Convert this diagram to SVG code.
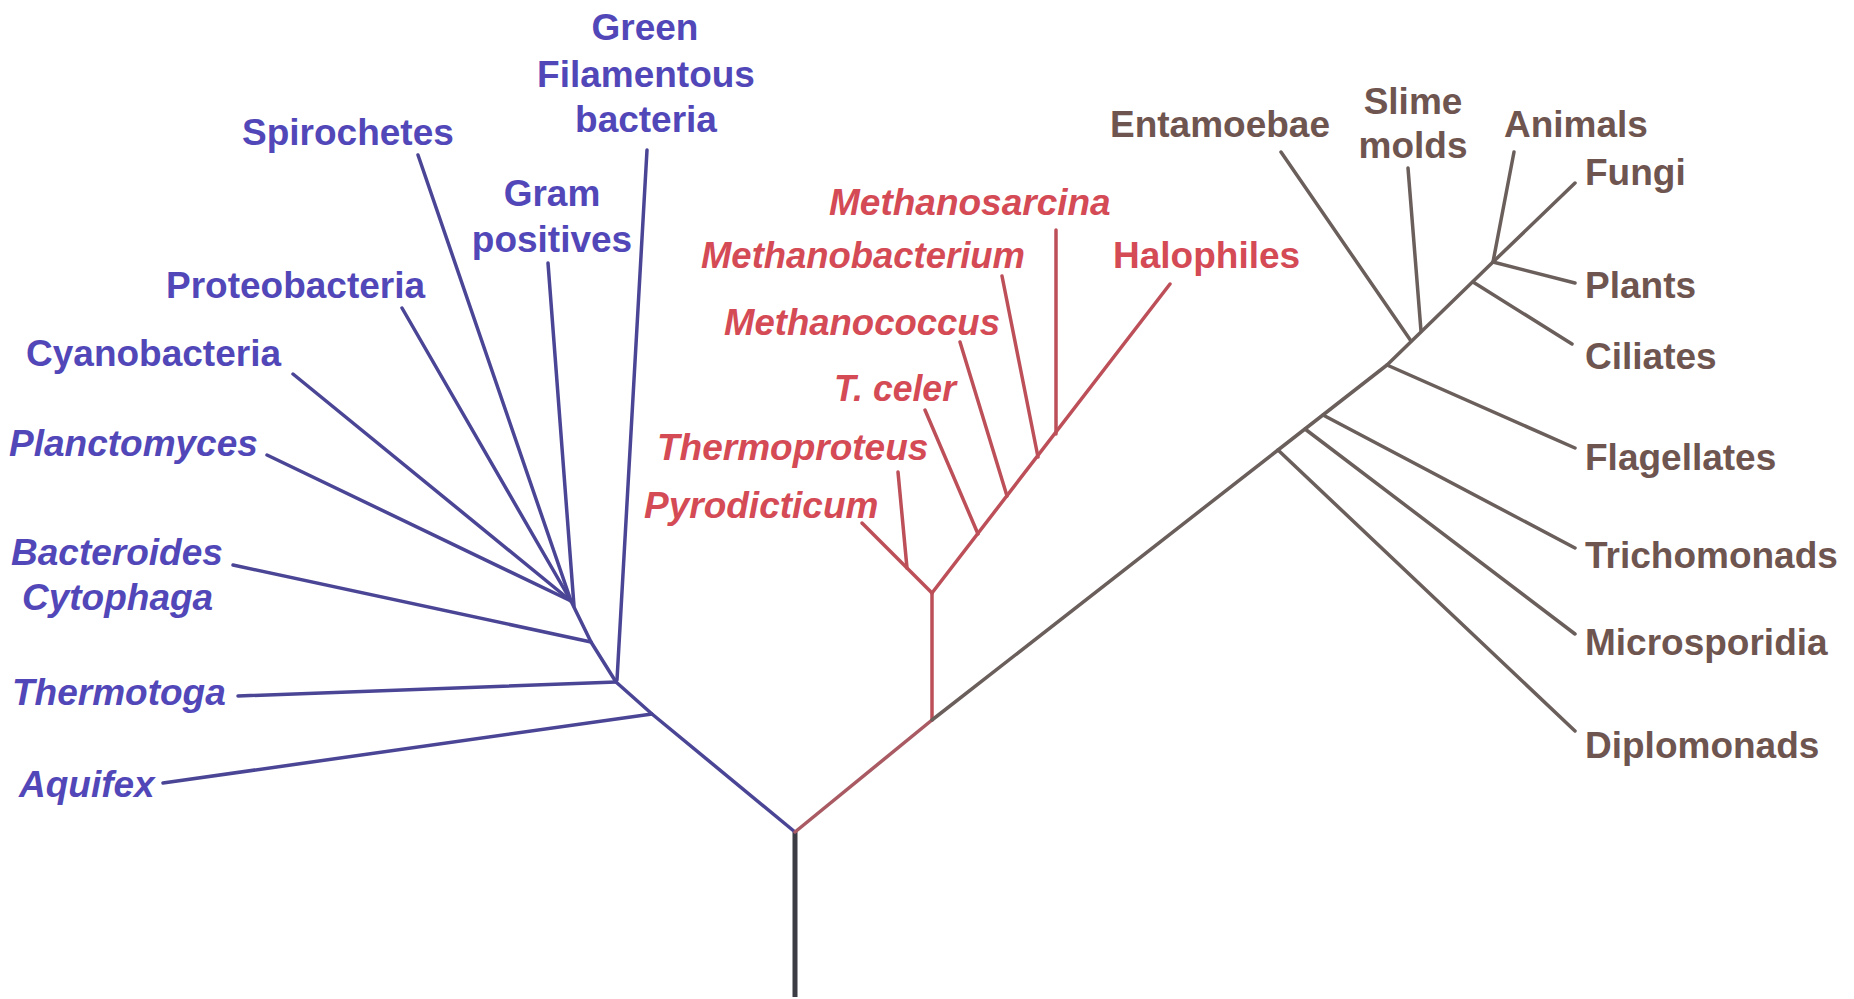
<svg xmlns="http://www.w3.org/2000/svg" width="1854" height="999" viewBox="0 0 1854 999">
<style>
text{font-family:"Liberation Sans",Arial,sans-serif;font-weight:bold;font-size:37px}
.it{font-style:italic}
.b{fill:#5247b8}
.r{fill:#d44a55}
.e{fill:#6f5550}
.mid{text-anchor:middle}
.lb{stroke:#4b4596;stroke-width:3.5;fill:none;stroke-linecap:round;stroke-linejoin:round}
.lr{stroke:#bd4f59;stroke-width:3.5;fill:none;stroke-linecap:round;stroke-linejoin:round}
.le{stroke:#6b5f5c;stroke-width:3.5;fill:none;stroke-linecap:round;stroke-linejoin:round}
.lroot{stroke:#3c3c44;stroke-width:5;fill:none}
</style>
<rect width="1854" height="999" fill="#ffffff"/>
<g id="connectors">
  <line class="lroot" x1="795" y1="832" x2="795" y2="997"/>
  <!-- bacteria -->
  <polyline class="lb" points="795,832 652,714 616,682 591,642 571,601"/>
  <line class="lb" x1="163" y1="783" x2="652" y2="714"/>
  <line class="lb" x1="238" y1="696" x2="616" y2="682"/>
  <line class="lb" x1="233" y1="565" x2="591" y2="642"/>
  <line class="lb" x1="267" y1="455" x2="571" y2="601"/>
  <line class="lb" x1="293" y1="374" x2="571" y2="601"/>
  <line class="lb" x1="402" y1="308" x2="571" y2="601"/>
  <line class="lb" x1="418" y1="155" x2="571" y2="601"/>
  <line class="lb" x1="548" y1="263" x2="574" y2="606"/>
  <line class="lb" x1="647" y1="150" x2="617" y2="680"/>
  <!-- archaea -->
  <line class="lr" x1="795" y1="832" x2="932" y2="720" style="stroke:#a95a62"/>
  <line class="lr" x1="932" y1="720" x2="932" y2="593"/>
  <line class="lr" x1="932" y1="593" x2="862" y2="523"/>
  <line class="lr" x1="907" y1="568" x2="898" y2="472"/>
  <line class="lr" x1="932" y1="593" x2="1170" y2="284"/>
  <line class="lr" x1="978" y1="534" x2="925" y2="410"/>
  <line class="lr" x1="1007" y1="496" x2="960" y2="342"/>
  <line class="lr" x1="1038" y1="457" x2="1002" y2="276"/>
  <line class="lr" x1="1056" y1="434" x2="1056" y2="230"/>
  <!-- eukaryotes -->
  <polyline class="le" points="932,720 1278,450 1387,365 1493,262 1575,183"/>
  <line class="le" x1="1278" y1="450" x2="1575" y2="731"/>
  <line class="le" x1="1305" y1="429" x2="1575" y2="634"/>
  <line class="le" x1="1323" y1="415" x2="1575" y2="548"/>
  <line class="le" x1="1387" y1="365" x2="1575" y2="448"/>
  <line class="le" x1="1411" y1="341" x2="1281" y2="152"/>
  <line class="le" x1="1421" y1="331" x2="1408" y2="168"/>
  <line class="le" x1="1473" y1="282" x2="1572" y2="344"/>
  <line class="le" x1="1493" y1="262" x2="1575" y2="283"/>
  <line class="le" x1="1493" y1="262" x2="1514" y2="152"/>
</g>
<g id="n-green-filamentous"><text class="b mid" x="645" y="40">Green</text><text class="b mid" x="646" y="87">Filamentous</text><text class="b mid" x="646" y="132">bacteria</text></g>
<g id="n-spirochetes"><text class="b" x="242" y="145">Spirochetes</text></g>
<g id="n-gram-positives"><text class="b mid" x="552" y="206">Gram</text><text class="b mid" x="552" y="252">positives</text></g>
<g id="n-proteobacteria"><text class="b" x="166" y="298">Proteobacteria</text></g>
<g id="n-cyanobacteria"><text class="b" x="26" y="366">Cyanobacteria</text></g>
<g id="n-planctomyces"><text class="b it" x="9" y="456">Planctomyces</text></g>
<g id="n-bacteroides"><text class="b it" x="11" y="565">Bacteroides</text><text class="b it" x="22" y="610">Cytophaga</text></g>
<g id="n-thermotoga"><text class="b it" x="12" y="705">Thermotoga</text></g>
<g id="n-aquifex"><text class="b it" x="19" y="797">Aquifex</text></g>
<g id="n-methanosarcina"><text class="r it" x="829" y="215">Methanosarcina</text></g>
<g id="n-methanobacterium"><text class="r it" x="701" y="268" textLength="324" lengthAdjust="spacingAndGlyphs">Methanobacterium</text></g>
<g id="n-methanococcus"><text class="r it" x="724" y="335" textLength="276" lengthAdjust="spacingAndGlyphs">Methanococcus</text></g>
<g id="n-tceler"><text class="r it" x="834" y="401" textLength="122" lengthAdjust="spacingAndGlyphs">T. celer</text></g>
<g id="n-thermoproteus"><text class="r it" x="657" y="460">Thermoproteus</text></g>
<g id="n-pyrodicticum"><text class="r it" x="644" y="518">Pyrodicticum</text></g>
<g id="n-halophiles"><text class="r" x="1113" y="268">Halophiles</text></g>
<g id="n-entamoebae"><text class="e" x="1110" y="137">Entamoebae</text></g>
<g id="n-slime-molds"><text class="e mid" x="1413" y="114">Slime</text><text class="e mid" x="1413" y="158">molds</text></g>
<g id="n-animals"><text class="e" x="1504" y="137">Animals</text></g>
<g id="n-fungi"><text class="e" x="1585" y="185">Fungi</text></g>
<g id="n-plants"><text class="e" x="1585" y="298">Plants</text></g>
<g id="n-ciliates"><text class="e" x="1585" y="369">Ciliates</text></g>
<g id="n-flagellates"><text class="e" x="1585" y="470">Flagellates</text></g>
<g id="n-trichomonads"><text class="e" x="1585" y="568">Trichomonads</text></g>
<g id="n-microsporidia"><text class="e" x="1585" y="655">Microsporidia</text></g>
<g id="n-diplomonads"><text class="e" x="1585" y="758">Diplomonads</text></g>
</svg>
